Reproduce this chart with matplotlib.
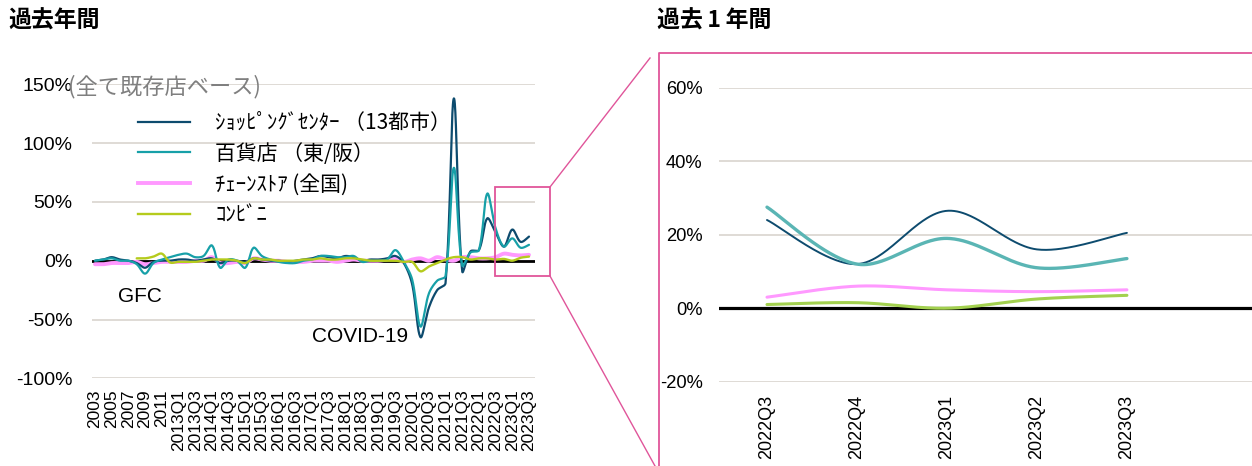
import numpy as np
import matplotlib
matplotlib.use("Agg")
import matplotlib.pyplot as plt
from matplotlib.lines import Line2D
from matplotlib.patches import Rectangle
from matplotlib.font_manager import FontProperties

plt.rcParams['font.family'] = ['Liberation Sans', 'Noto Sans CJK JP']
JP = ['Noto Sans CJK JP', 'DejaVu Sans']

# ---------------- data ----------------
years = ['2003', '2004', '2005', '2006', '2007', '2008', '2009', '2010', '2011', '2012']
quarters = [f'{y}Q{q}' for y in range(2013, 2024) for q in range(1, 5)][:-1]
categories = years + quarters

nan = np.nan
shopping_center = [0, 1, 3, 1, 0, -2, -6, -1, 0, 0,
                   1, 1, 0, 1, 2, -2, 0, 0, -1, 2, 1, 0, 0, -1, 0, 1, 2, 4, 3, 2, 4, 3, 0, 1, 1, 2, 4, -2,
                   -20, -65, -40, -25, -19, 138, -9, 8, 9, 36,
                   24, 12, 26.5, 16, 20.5]
department_store = [0, 1, 2, 0, 0, -3, -11, -2, 1, 3,
                    5, 6, 3, 4, 13, -6, 1, 0, -6, 11, 4, 1, -1, -2, -2, 0, 1, 4, 4, 3, 3, 4, -1, 0, 0, 1, 9, -1,
                    -16, -56, -28, -17, -13, 79, -4, 7, 9, 57,
                    27.5, 12, 19, 11, 13.5]
chain_store = [-3, -3, -2, -2, -2, -1, -3, -2, -1, -1,
               -1, -1, 0, 0, 3, -2, -2, -1, -2, 2, 1, 0, 0, -1, -1, -1, 0, 0, 0, -1, 0, 1, 0, 0, 0, 1, 2, -1,
               1, 2, 0, 3, 1, 0, 3, 3, 2, 2,
               3, 6, 5, 4.5, 5]
convenience = [nan, nan, nan, nan, nan, 2, 2, 3.5, 6, -1.5,
               -1, -1, -1, 0, 1, 1, 1, 0, -2, 2, 1, 1, 0, 0, 0, 1, 1, 2, 1, 1, 2, 2, 1, 0, 0, 0, 0, -1,
               -1, -9, -5, -2, 1, 3, 3, 1, 2, 2,
               1, 1.5, 0, 2.5, 3.5]

labels = ['ｼｮｯﾋﾟﾝｸﾞｾﾝﾀｰ （13都市）', '百貨店 （東/阪）', 'ﾁｪｰﾝｽﾄｱ (全国)', 'ｺﾝﾋﾞﾆ']
left_yticks = [-100, -50, 0, 50, 100, 150]
right_yticks = [-20, 0, 20, 40, 60]
recent_start = 48  # 2022Q3

# ---------------- helpers ----------------
W, H = 1252, 466


def fx(px):
    return px / W


def fy(py):
    return 1 - py / H


def smooth(xv, yv, kx, ky, n=24):
    """Excel-like smoothed line (Bezier with screen-space weighted tangents)."""
    xv = np.asarray(xv, float)
    yv = np.asarray(yv, float)
    ok = np.isfinite(yv)
    xs_all, ys_all = [], []
    idx = np.where(ok)[0]
    runs = np.split(idx, np.where(np.diff(idx) != 1)[0] + 1)
    scale = np.array([kx, ky])
    for r in runs:
        if len(r) == 0:
            continue
        P = np.column_stack([xv[r], yv[r]])
        N = len(P)
        if N == 1:
            xs_all.append(P[:, 0]); ys_all.append(P[:, 1]); continue
        t = np.linspace(0, 1, n, endpoint=False)[:, None]

        def d(a, b):
            return np.hypot(*((b - a) * scale)) + 1e-9
        segs = []
        for i in range(N - 1):
            p0 = P[i - 1] if i > 0 else P[i]
            p1 = P[i]
            p2 = P[i + 1]
            p3 = P[i + 2] if i + 2 < N else P[i + 1]
            d01, d12, d23 = d(p0, p1), d(p1, p2), d(p2, p3)
            f1 = d12 / (d01 + d12) if i > 0 else 0.5
            f2 = d12 / (d12 + d23) if i + 2 < N else 0.5
            c1 = p1 + (p2 - p0) * f1 / 3
            c2 = p2 - (p3 - p1) * f2 / 3
            b = ((1 - t) ** 3) * p1 + 3 * ((1 - t) ** 2) * t * c1 + 3 * (1 - t) * t ** 2 * c2 + t ** 3 * p2
            segs.append(b)
        segs.append(P[-1:])
        B = np.vstack(segs)
        xs_all.append(B[:, 0]); ys_all.append(B[:, 1])
        xs_all.append([np.nan]); ys_all.append([np.nan])
    return np.concatenate(xs_all), np.concatenate(ys_all)


fig = plt.figure(figsize=(W / 100, H / 100), dpi=100)

series = [shopping_center, department_store, chain_store, convenience]
left_colors = ['#0D4B6E', '#17A0A8', '#FF99FF', '#B5CB1D']
left_lw = [1.6, 1.6, 2.8, 1.7]
right_colors = ['#0D4B6E', '#5AB5B4', '#FF99FF', '#A3D14F']
right_lw = [1.4, 2.4, 2.2, 2.2]
z_order = [3, 4, 2, 5]
grid_c = '#D9D4CE'
pink = '#E0559A'

# ---------------- left axes ----------------
axL = fig.add_axes([fx(92), fy(378.3), fx(535) - fx(92), (378.3 - 84.3) / H])
x = np.arange(len(categories))
for s, c, lw, z in zip(series, left_colors, left_lw, z_order):
    sx, sy = smooth(x, s, 8.35, 1.176)
    axL.plot(sx, sy, color=c, lw=lw, zorder=z, solid_capstyle='round')
axL.axhline(0, color='black', lw=2.0, zorder=1.8)
axL.set_xlim(-0.36, 52.72)
axL.set_ylim(-100, 150)
axL.set_yticks(left_yticks)
axL.set_yticklabels([f'{v}%' for v in left_yticks], fontsize=14)
axL.set_xticks(x[::2])
axL.set_xticklabels(categories[::2], rotation=90, fontsize=12.5)
axL.tick_params(axis='both', length=0)
axL.tick_params(axis='y', pad=14)
axL.tick_params(axis='x', pad=8)
axL.yaxis.grid(True, color=grid_c, lw=1.2)
axL.set_axisbelow(True)
for sp in axL.spines.values():
    sp.set_visible(False)

handles = [Line2D([], [], color=c, lw=lw) for c, lw in zip(left_colors, left_lw)]
fig.legend(handles, labels, loc='upper left', bbox_to_anchor=(fx(138), fy(112)),
           frameon=False, prop=FontProperties(family=JP, size=15),
           handlelength=2.5, handletextpad=1.2, borderpad=0, borderaxespad=0,
           labelspacing=0.42)

fig.text(fx(118), fy(296), 'GFC', fontsize=15, va='center', ha='left')
fig.text(fx(312), fy(337), 'COVID-19', fontsize=15, va='center', ha='left')
fig.text(fx(68), fy(87), '(全て既存店ベース)', family=JP, fontsize=16, color='#7F7F7F',
         va='center', ha='left')

# zoom rectangle and connectors
fig.add_artist(Rectangle((fx(495), fy(276)), fx(550) - fx(495), (276 - 187) / H,
                         transform=fig.transFigure, fill=False, ec=pink, lw=1.3))
fig.add_artist(Line2D([fx(550), fx(650)], [fy(187), fy(58)], transform=fig.transFigure, color=pink, lw=1.0))
fig.add_artist(Line2D([fx(550), fx(655)], [fy(276), fy(466)], transform=fig.transFigure, color=pink, lw=1.0))

# ---------------- right axes ----------------
axR = fig.add_axes([fx(719.3), fy(381.7), 1 - fx(719.3), (381.7 - 87.7) / H])
rcat = categories[recent_start:]
xr = np.arange(len(rcat))
for s, c, lw, z in zip(series, right_colors, right_lw, z_order):
    sx, sy = smooth(xr, s[recent_start:], 90, 3.675, n=60)
    axR.plot(sx, sy, color=c, lw=lw, zorder=z, solid_capstyle='round')
axR.axhline(0, color='black', lw=2.3, zorder=1.8)
axR.set_xlim(-0.53, 5.39)
axR.set_ylim(-20, 60)
axR.set_yticks(right_yticks)
axR.set_yticklabels([f'{v}%' for v in right_yticks], fontsize=13.2)
axR.set_xticks(xr)
axR.set_xticklabels(rcat, rotation=90, fontsize=13)
axR.tick_params(axis='both', length=0)
axR.tick_params(axis='y', pad=12)
axR.tick_params(axis='x', pad=9.5)
axR.yaxis.grid(True, color=grid_c, lw=1.2)
axR.set_axisbelow(True)
for sp in axR.spines.values():
    sp.set_visible(False)

# right frame
fig.add_artist(Line2D([fx(659), fx(659), 1.0], [0.0, fy(53), fy(53)], transform=fig.transFigure,
                      color=pink, lw=1.3))

# titles
fig.text(fx(8), fy(21), '過去年間', family=JP, fontsize=16.5, fontweight='bold', va='center', ha='left')
fig.text(fx(657), fy(21), '過去\u20091\u2009年間', family=JP, fontsize=16.5, fontweight='bold',
         va='center', ha='left')

fig.savefig('out.png', dpi=100)
